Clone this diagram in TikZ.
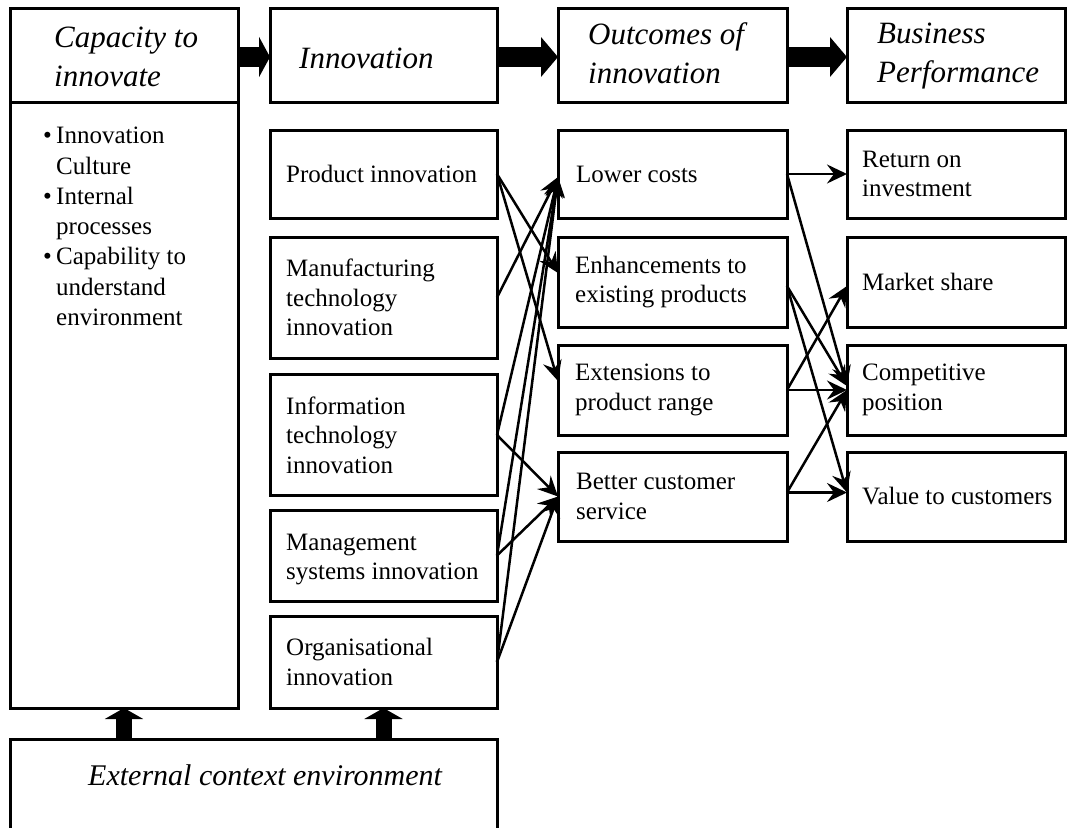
\documentclass[tikz,border=0pt]{standalone}
\usepackage{fontspec}
\setmainfont{Liberation Serif}
\usetikzlibrary{arrows.meta,calc}
\tikzset{
  box/.style={draw, line width=3pt, inner sep=0pt, outer sep=0pt},
  body/.style={anchor=west, align=left, inner sep=0pt, font=\fontsize{25}{29.5}\selectfont},
  head/.style={anchor=west, align=left, inner sep=0pt, font=\fontsize{31}{38.5}\selectfont\itshape},
  conn/.style={line width=2.5pt, -{Stealth[length=20pt,width=19pt,inset=7pt]}},
  bigshort/.style={line width=20pt, -{Triangle[length=11pt,width=40pt]}},
  biglong/.style={line width=20pt, -{Triangle[length=17pt,width=39pt]}},
  bigup/.style={line width=16pt, -{Triangle[length=11pt,width=38pt]}},
}
\newcommand{\bul}{\makebox[13pt][l]{\textbullet}}
\newcommand{\ind}{\hspace*{13pt}}
\begin{document}
\begin{tikzpicture}[x=1pt,y=-1pt]
\useasboundingbox (0,0) rectangle (1067,827);
\clip (0,0) rectangle (1067,827);

% header boxes
\node[box, minimum width=228pt, minimum height=94pt] (capH) at (124,55) {};
\node[box, minimum width=228pt, minimum height=606pt] (capB) at (124,405) {};
\node[box, minimum width=227pt, minimum height=94pt] (innH) at (383.5,55) {};
\node[box, minimum width=229pt, minimum height=94pt] (outH) at (672.5,55) {};
\node[box, minimum width=218pt, minimum height=94pt] (busH) at (956,55) {};

\node[head, yshift=-2pt] (capHt) at ([xshift=44pt]capH.west) {Capacity to\\innovate};
\node[head, yshift=-3pt] (innHt) at ([xshift=29pt]innH.west) {Innovation};
\node[head, yshift=2pt] (outHt) at ([xshift=30pt]outH.west) {Outcomes of\\innovation};
\node[head, yshift=-1pt] (busHt) at ([xshift=30pt]busH.west) {Business\\Performance};

% capacity bullet list
\node[anchor=north west, align=left, inner sep=0pt, font=\fontsize{25}{30.3}\selectfont] (capList)
  at ([xshift=33pt,yshift=-25pt]capB.north west)
  {\bul Innovation\\ \ind Culture\\ \bul Internal\\ \ind processes\\ \bul Capability to\\ \ind understand\\ \ind environment};

% innovation column
\node[box, minimum width=227pt, minimum height=88pt] (inPI) at (383.5,174) {};
\node[box, minimum width=227pt, minimum height=121pt] (inMT) at (383.5,297.5) {};
\node[box, minimum width=227pt, minimum height=121pt] (inIT) at (383.5,435) {};
\node[box, minimum width=227pt, minimum height=91pt] (inMS) at (383.5,555.5) {};
\node[box, minimum width=227pt, minimum height=92pt] (inOI) at (383.5,662) {};
\node[body] (inPIt) at ([xshift=16pt]inPI.west) {Product innovation};
\node[body] (inMTt) at ([xshift=16pt]inMT.west) {Manufacturing\\technology\\innovation};
\node[body] (inITt) at ([xshift=16pt]inIT.west) {Information\\technology\\innovation};
\node[body] (inMSt) at ([xshift=16pt,yshift=-4pt]inMS.west) {Management\\systems innovation};
\node[body] (inOIt) at ([xshift=16pt]inOI.west) {Organisational\\innovation};

% outcomes column
\node[box, minimum width=229pt, minimum height=88pt] (ocLC) at (672.5,174) {};
\node[box, minimum width=229pt, minimum height=90pt] (ocEN) at (672.5,282) {};
\node[box, minimum width=229pt, minimum height=90pt] (ocEX) at (672.5,390) {};
\node[box, minimum width=229pt, minimum height=89pt] (ocBC) at (672.5,496.5) {};
\node[body] (ocLCt) at ([xshift=18pt]ocLC.west) {Lower costs};
\node[body] (ocENt) at ([xshift=17pt]ocEN.west) {Enhancements to\\existing products};
\node[body] (ocEXt) at ([xshift=17pt]ocEX.west) {Extensions to\\product range};
\node[body] (ocBCt) at ([xshift=18pt]ocBC.west) {Better customer\\service};

% business column
\node[box, minimum width=218pt, minimum height=88pt] (bpRO) at (956,174) {};
\node[box, minimum width=218pt, minimum height=90pt] (bpMS) at (956,282) {};
\node[box, minimum width=218pt, minimum height=90pt] (bpCP) at (956,390) {};
\node[box, minimum width=218pt, minimum height=89pt] (bpVC) at (956,496.5) {};
\node[body] (bpROt) at ([xshift=15pt]bpRO.west) {Return on\\investment};
\node[body] (bpMSt) at ([xshift=15pt]bpMS.west) {Market share};
\node[body] (bpCPt) at ([xshift=15pt]bpCP.west) {Competitive\\position};
\node[body] (bpVCt) at ([xshift=15pt]bpVC.west) {Value to customers};

% external context
\node[box, minimum width=487pt, minimum height=102pt] (ext) at (253.5,790) {};
\node[anchor=west, inner sep=0pt, font=\fontsize{30}{36}\selectfont\itshape] (extt)
  at ([xshift=78pt,yshift=15pt]ext.west) {External context environment};

% thick arrows
\draw[bigshort] ([yshift=-2pt]capH.east) -- ([yshift=-2pt]innH.west);
\draw[biglong] ([yshift=-2pt]innH.east) -- ([yshift=-2pt]outH.west);
\draw[biglong] ([yshift=-2pt]outH.east) -- ([yshift=-2pt]busH.west);
\draw[bigup] (ext.north -| capB.south) -- (capB.south);
\draw[bigup] (ext.north -| inOI.south) -- (inOI.south);

% innovation -> outcomes
\draw[conn] (inPI.east) -- ([yshift=9pt]ocEN.west);
\draw[conn] (inPI.east) -- ([yshift=9pt]ocEX.west);
\draw[conn] (inMT.east) -- ([yshift=-3pt]ocLC.west);
\draw[conn] (inIT.east) -- ([yshift=-3pt]ocLC.west);
\draw[conn] (inIT.east) -- (ocBC.west);
\draw[conn] (inMS.east) -- ([yshift=-3pt]ocLC.west);
\draw[conn] (inMS.east) -- (ocBC.west);
\draw[conn] (inOI.east) -- ([yshift=-3pt]ocLC.west);
\draw[conn] (inOI.east) -- (ocBC.west);

% outcomes -> business performance
\draw[conn] (ocLC.east) -- (bpRO.west);
\draw[conn] (ocLC.east) -- ([yshift=4pt]bpCP.west);
\draw[conn] ([yshift=-4pt]ocEN.east) -- ([yshift=4pt]bpCP.west);
\draw[conn] ([yshift=-4pt]ocEN.east) -- ([yshift=4pt]bpVC.west);
\draw[conn] (ocEX.east) -- ([yshift=-4pt]bpMS.west);
\draw[conn] (ocEX.east) -- (bpCP.west);
\draw[conn] ([yshift=4pt]ocBC.east) -- (bpCP.west);
\draw[conn] ([yshift=4pt]ocBC.east) -- ([yshift=4pt]bpVC.west);
\end{tikzpicture}
\end{document}
